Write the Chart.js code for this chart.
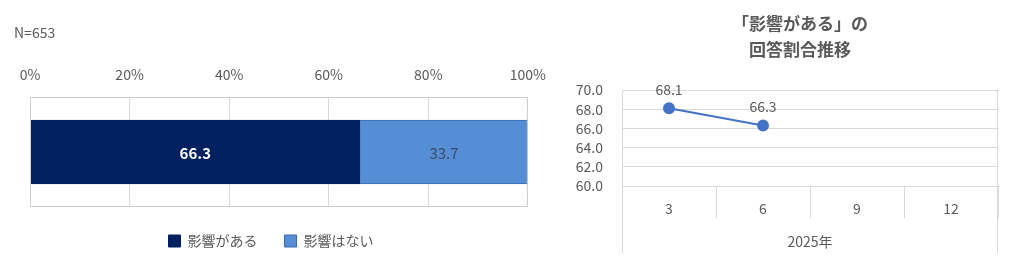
<!DOCTYPE html>
<html>
<head>
<meta charset="utf-8">
<script src="https://cdn.jsdelivr.net/npm/chart.js@4"></script>
<style>
  body { margin: 0; background: #fff; width: 1033px; height: 277px; overflow: hidden; font-family: "Noto Sans CJK JP", sans-serif; }
  #left-box { position: absolute; left: 0; top: 0; width: 560px; height: 277px; }
  #right-box { position: absolute; left: 567px; top: 0; width: 466px; height: 277px; }
  #n-label { position: absolute; left: 14px; top: 22px; font-size: 14px; color: #595959; }
</style>
</head>
<body>
<div id="left-box"><canvas id="bar-chart" width="560" height="277"></canvas></div>
<div id="n-label">N=653</div>
<div id="right-box"><canvas id="line-chart" width="466" height="277"></canvas></div>
<script>
// left: share of answers
const barCategories = [''];
const answerNames = ['影響がある', '影響はない'];
const answerValues = [66.3, 33.7];
const pctTicks = [0, 20, 40, 60, 80, 100];

// right: trend of "影響がある"
const months = ['3', '6', '9', '12'];
const trendValues = [68.1, 66.3, null, null];
const yearLabel = '2025年';
const trendTicks = [60, 62, 64, 66, 68, 70];
const trendTitle = ['「影響がある」の', '回答割合推移'];

const FONT = '"Noto Sans CJK JP", "Noto Sans", sans-serif';
const GREY = '#595959';
const GRID = '#d9d9d9';

// box round the plot area
const frame_plugin = {
    id: 'frame',
    afterDatasetsDraw(chart, args, opts) {
        let a = chart.chartArea;
        let ctx = chart.ctx;
        ctx.save();
        ctx.strokeStyle = opts.color || GRID;
        ctx.lineWidth = 1;
        if (opts.full) {
            ctx.strokeRect(a.left + 0.5, a.top + 0.5, a.right - a.left - 1, a.bottom - a.top - 1);
        } else {
            let bottom = chart.scales.x.bottom;
            ctx.beginPath();
            ctx.moveTo(a.left + 0.5, a.top);
            ctx.lineTo(a.left + 0.5, bottom);
            ctx.moveTo(a.right - 0.5, a.top);
            ctx.lineTo(a.right - 0.5, bottom);
            ctx.moveTo(a.left, a.top + 0.5);
            ctx.lineTo(a.right, a.top + 0.5);
            ctx.stroke();
        }
        ctx.restore();
    }
};

// value labels on the bars
const bar_labels = {
    id: 'barLabels',
    afterDatasetsDraw(chart) {
        let ctx = chart.ctx;
        ctx.save();
        ctx.textAlign = 'center';
        ctx.textBaseline = 'middle';
        chart.data.datasets.forEach((ds, i) => {
            let meta = chart.getDatasetMeta(i);
            meta.data.forEach((bar, j) => {
                let p = bar.getProps(['x', 'y', 'base'], true);
                ctx.fillStyle = i === 0 ? '#ffffff' : '#3a4a66';
                ctx.font = (i === 0 ? 'bold ' : '') + '15px ' + FONT;
                ctx.fillText(ds.data[j].toFixed(1), (p.x + p.base) / 2, p.y + 1);
            });
        });
        ctx.restore();
    }
};

// value labels above the points
const point_labels = {
    id: 'pointLabels',
    afterDatasetsDraw(chart) {
        let ctx = chart.ctx;
        ctx.save();
        ctx.textAlign = 'center';
        ctx.textBaseline = 'middle';
        ctx.fillStyle = GREY;
        ctx.font = '14px ' + FONT;
        let meta = chart.getDatasetMeta(0);
        meta.data.forEach((pt, j) => {
            let v = chart.data.datasets[0].data[j];
            if (v == null) return;
            ctx.fillText(v.toFixed(1), pt.x, pt.y - 19);
        });
        ctx.restore();
    }
};

Chart.defaults.font.family = FONT;
Chart.defaults.color = GREY;

let bar_chart = new Chart(document.getElementById('bar-chart'), {
    type: 'bar',
    data: {
        labels: barCategories,
        datasets: [
            {
                label: answerNames[0],
                data: [answerValues[0]],
                backgroundColor: '#002060',
                borderColor: '#002060',
                borderWidth: 1,
                barThickness: 64
            },
            {
                label: answerNames[1],
                data: [answerValues[1]],
                backgroundColor: '#558ed5',
                borderColor: '#3b6aa8',
                borderWidth: 1,
                barThickness: 64
            }
        ]
    },
    options: {
        indexAxis: 'y',
        responsive: false,
        animation: false,
        layout: { padding: { left: 14, right: 32, top: 0, bottom: 19 } },
        scales: {
            x: {
                position: 'top',
                stacked: true,
                min: 0,
                max: 100,
                afterBuildTicks: (scale) => { scale.ticks = pctTicks.map(v => ({ value: v })); },
                afterFit: (scale) => { scale.height = 97; },
                ticks: {
                    padding: 14,
                    font: { size: 14 },
                    color: GREY,
                    autoSkip: false,
                    callback: (v) => v + '%'
                },
                grid: { color: GRID, drawTicks: false },
                border: { display: false }
            },
            y: {
                stacked: true,
                afterFit: (scale) => { scale.width = 16; },
                ticks: { display: false },
                grid: { display: false },
                border: { display: false }
            }
        },
        plugins: {
            legend: {
                position: 'bottom',
                labels: {
                    boxWidth: 12,
                    boxHeight: 12,
                    padding: 27,
                    color: GREY,
                    font: { size: 14 }
                }
            },
            tooltip: { enabled: false },
            frame: { full: true, color: '#d0d0d0' }
        }
    },
    plugins: [frame_plugin, bar_labels]
});

let line_chart = new Chart(document.getElementById('line-chart'), {
    type: 'line',
    data: {
        labels: months,
        datasets: [
            {
                label: '影響がある',
                data: trendValues,
                borderColor: '#4472c4',
                backgroundColor: '#4472c4',
                borderWidth: 2,
                pointRadius: 5,
                pointBackgroundColor: '#4472c4',
                pointBorderColor: '#4472c4',
                tension: 0
            }
        ]
    },
    options: {
        responsive: false,
        animation: false,
        layout: { padding: { left: 0, right: 0, top: 0, bottom: 24 } },
        scales: {
            x: {
                offset: true,
                afterFit: (scale) => { scale.height = 67; },
                ticks: { padding: -18, font: { size: 14 }, color: GREY },
                grid: { offset: true, drawOnChartArea: false, tickLength: 32, color: GRID },
                border: { display: true, color: GRID },
                title: {
                    display: true,
                    text: yearLabel,
                    color: GREY,
                    font: { size: 14 },
                    padding: { top: 0, bottom: 3 }
                }
            },
            y: {
                min: 60,
                max: 70,
                afterBuildTicks: (scale) => { scale.ticks = trendTicks.map(v => ({ value: v })); },
                afterFit: (scale) => { scale.width = 55; },
                ticks: {
                    padding: 19,
                    font: { size: 14 },
                    color: GREY,
                    autoSkip: false,
                    callback: (v) => Number(v).toFixed(1)
                },
                grid: { color: GRID, drawTicks: false },
                border: { display: false }
            },
            // empty space on the right, keeps the title centred on the whole canvas
            spacer: {
                position: 'right',
                afterFit: (scale) => { scale.width = 35; },
                ticks: { display: false },
                grid: { display: false },
                border: { display: false }
            }
        },
        plugins: {
            legend: { display: false },
            tooltip: { enabled: false },
            title: {
                display: true,
                text: trendTitle,
                color: GREY,
                font: { size: 17, weight: 'bold', lineHeight: 1.5 },
                padding: { top: 11, bottom: 28 }
            },
            frame: { full: false, color: GRID }
        }
    },
    plugins: [frame_plugin, point_labels]
});
</script>
</body>
</html>
